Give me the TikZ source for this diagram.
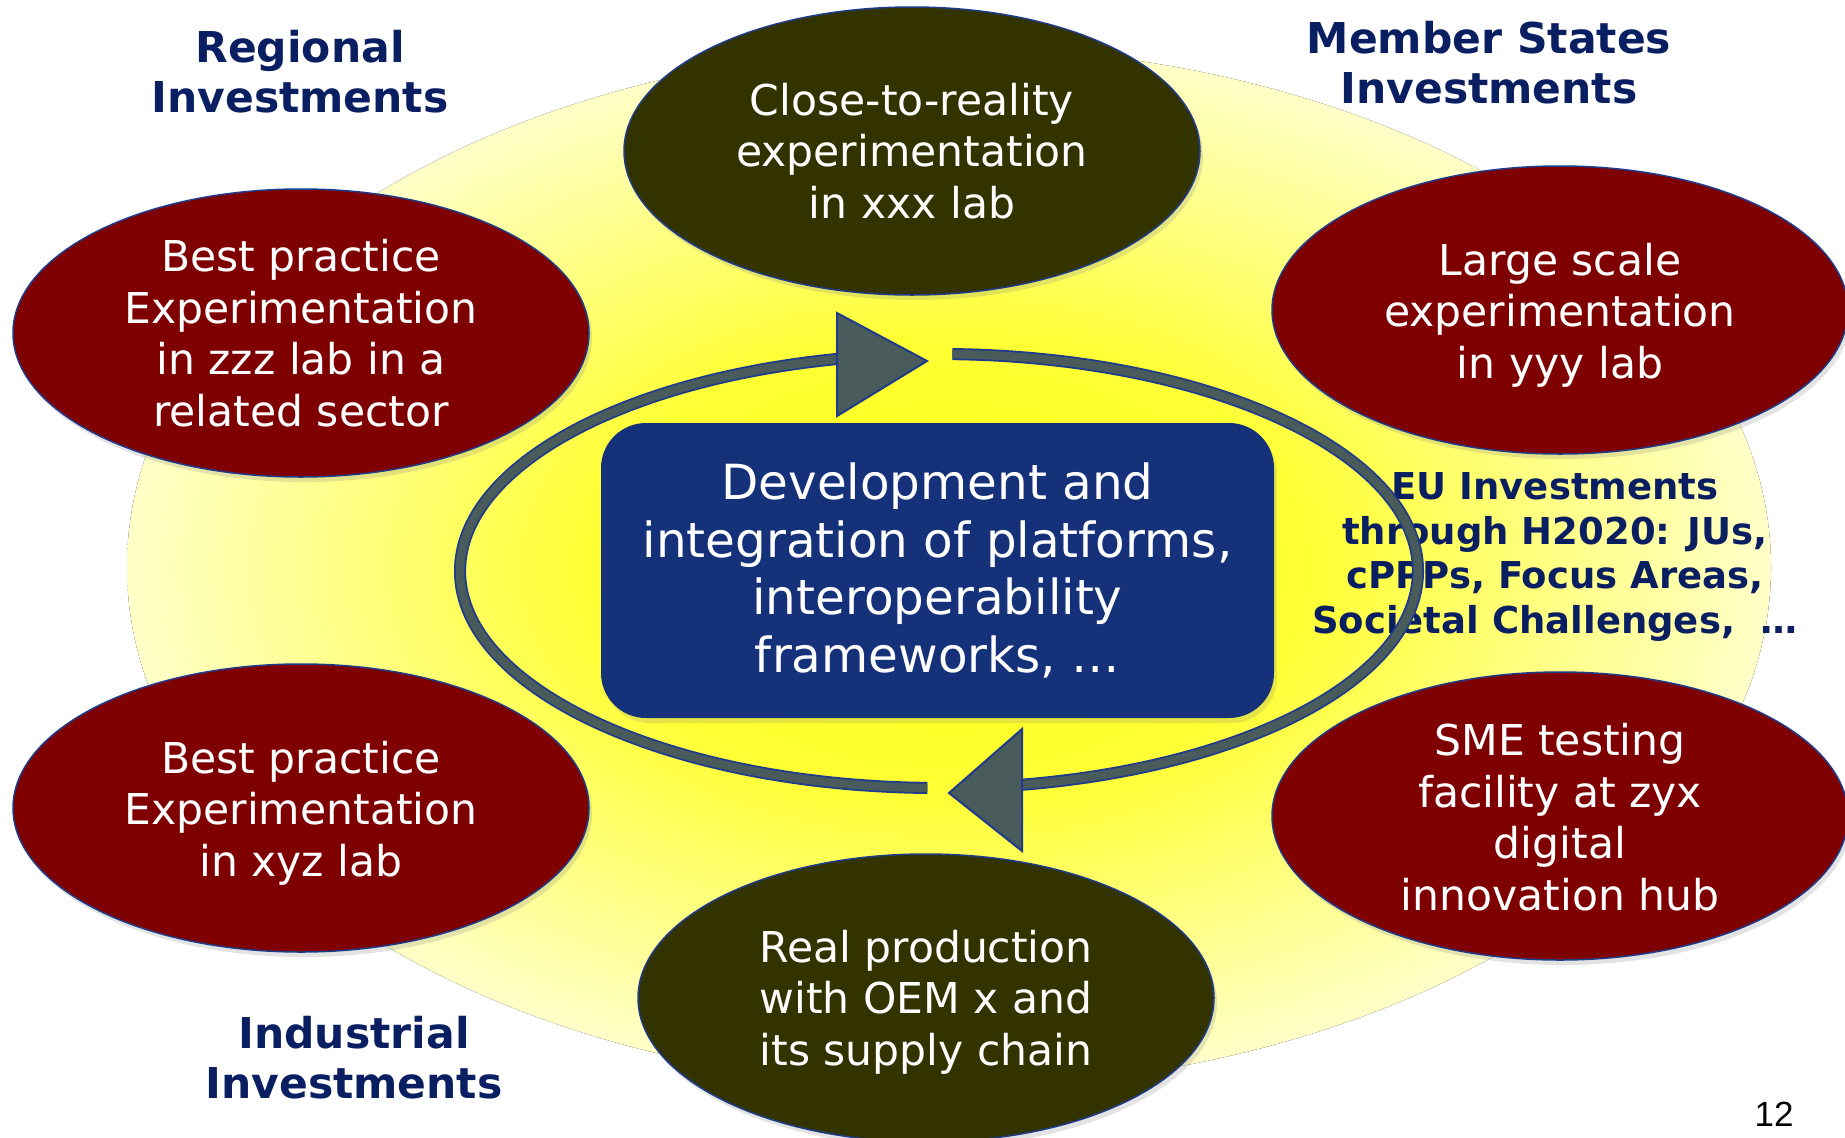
\documentclass[tikz,border=0pt]{standalone}
\usepackage{fontspec}
\setmainfont{DejaVu Sans}
\newfontfamily\arialfont{Liberation Sans}
\usetikzlibrary{shapes.geometric,shadows}
\definecolor{navytext}{HTML}{0A1F62}
\definecolor{redfill}{HTML}{7F0000}
\definecolor{olivefill}{HTML}{333300}
\definecolor{boxblue}{HTML}{15317A}
\definecolor{bandgrey}{HTML}{4A5B5C}
\definecolor{edgeblue}{HTML}{1F3C8C}
\definecolor{yelA}{HTML}{FFFF10}
\definecolor{yelB}{HTML}{FFFF35}
\definecolor{yelC}{HTML}{FFFF80}
\definecolor{yelD}{HTML}{FFFFC8}
\pgfdeclareradialshading{yelshade}{\pgfpoint{0bp}{0bp}}{color(0bp)=(yelA); color(11bp)=(yelB); color(18bp)=(yelC); color(25bp)=(yelD); color(50bp)=(yelD)}
\tikzset{
  oval/.style={ellipse, minimum width=576, minimum height=288, draw=edgeblue, line width=1.5,
    inner sep=0, drop shadow={shadow xshift=3pt, shadow yshift=-5pt, opacity=0.22}},
  redoval/.style={oval, fill=redfill},
  oliveoval/.style={oval, fill=olivefill},
  ovaltext/.style={text=white, align=center, inner sep=0, font=\fontsize{42.5}{51.5}\selectfont},
  investlabel/.style={text=navytext, align=center, inner sep=0, font=\bfseries\fontsize{42.5}{50}\selectfont},
  bandarc/.style={draw=edgeblue, line width=1.8, double=bandgrey, double distance=8.5},
  arrowtip/.style={fill=bandgrey, draw=edgeblue, line width=2, line join=miter},
}
\begin{document}
\begin{tikzpicture}[x=1pt, y=-1pt]
\useasboundingbox (0,0) rectangle (1845,1138);
\fill[white] (0,0) rectangle (1845,1138);
% yellow background
\fill[shading=yelshade] (949,567) ellipse [x radius=822, y radius=520];

% ovals
\node[oliveoval] (top) at (912,151) {};
\node[redoval] (ul) at (301,333) {};
\node[redoval] (ur) at (1560,310) {};
\node[redoval] (ll) at (301,808) {};
\node[redoval] (lr) at (1560,816) {};
\node[oliveoval] (bot) at (926,998) {};
\node[ovaltext] (toptext) at (top.center) {Close-to-reality\\experimentation\\in xxx lab};
\node[ovaltext] (ultext) at (ul.center) {Best practice\\Experimentation\\in zzz lab in a\\related sector};
\node[ovaltext] (urtext) at ([yshift=-5pt]ur.center) {Large scale\\experimentation\\in yyy lab};
\node[ovaltext] (lltext) at ([yshift=-5pt]ll.center) {Best practice\\Experimentation\\in xyz lab};
\node[ovaltext] (lrtext) at ([yshift=-1pt]lr.center) {SME testing\\facility at zyx\\digital\\innovation hub};
\node[ovaltext] (bottext) at ([yshift=-4pt]bot.center) {Real production\\with OEM x and\\its supply chain};

% central box
\node[fill=boxblue, rounded corners=45, minimum width=673, minimum height=295, inner sep=0,
  text=white, align=center, font=\fontsize{48.4}{57.7}\selectfont,
  drop shadow={shadow xshift=3pt, shadow yshift=-5pt, opacity=0.2}] (core) at (937.5,570.5)
  {Development and\\integration of platforms,\\interoperability\\frameworks, …};

% labels
\node[investlabel] (regional) at (300,72) {Regional\\Investments};
\node[investlabel] (member) at (1489,63) {Member States\\Investments};
\node[investlabel] (industrial) at (354,1058) {Industrial\\Investments};
\node[text=navytext, align=center, inner sep=0, font=\bfseries\fontsize{37}{44.5}\selectfont] (eu) at (1555,557)
  {EU Investments\\through H2020: JUs,\\cPPPs, Focus Areas,\\Societal Challenges,\ \ …};
\node[inner sep=0, font=\arialfont\fontsize{35}{40}\selectfont] (pagenum) at (1774,1114) {12};

% circular arrows
\coordinate (ringc) at (939,571);
\draw[bandarc] (ringc) ++(91.4:479 and 217) arc[start angle=91.4, end angle=257.9, x radius=479, y radius=217] coordinate (tipAbase);
\draw[bandarc] (ringc) ++(271.6:479 and 217) arc[start angle=271.6, end angle=440, x radius=479, y radius=217] coordinate (tipBbase);
\filldraw[arrowtip] (837,313) -- (927,361) -- (837,416) -- cycle;
\filldraw[arrowtip] (1022,729) -- (949,793) -- (1022,851) -- cycle;
\end{tikzpicture}
\end{document}
